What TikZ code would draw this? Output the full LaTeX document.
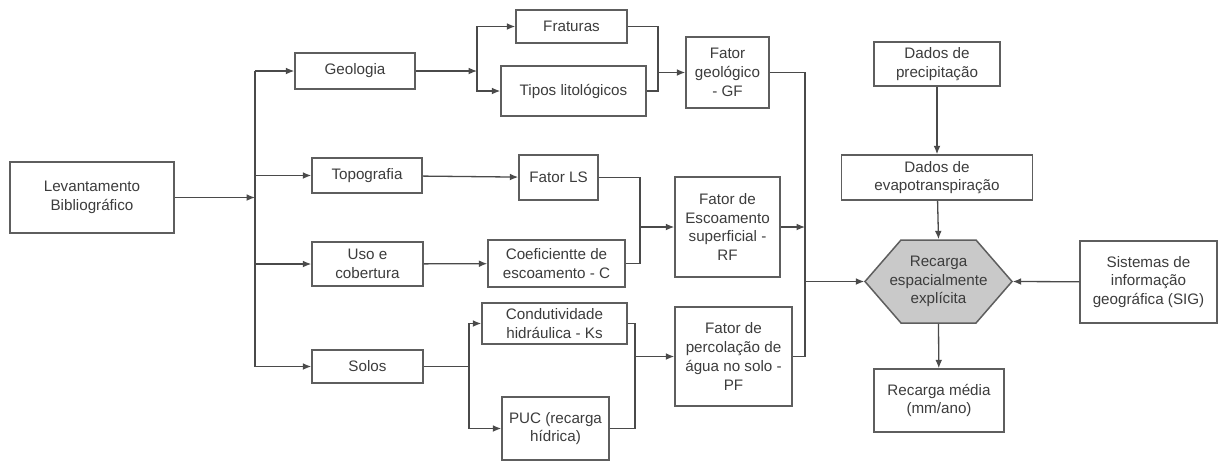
\documentclass[tikz,border=0pt]{standalone}
\usepackage{fontspec}
\setmainfont{Liberation Sans}
\usepackage{xcolor}
\definecolor{linhacinza}{HTML}{4A4A4A}
\definecolor{bordacinza}{HTML}{5E5E5E}
\definecolor{textocinza}{HTML}{3C3C3C}
\definecolor{hexcinza}{HTML}{C9C9C9}
\usepackage{tikz}
\usetikzlibrary{arrows.meta}
\usetikzlibrary{positioning}

\tikzset{
    caixa/.style={draw=bordacinza,line width=0.75pt,align=center,inner sep=1pt,
        text=textocinza,font=\fontsize{7.6}{9.4}\selectfont},
    liga/.style={draw=linhacinza,line width=0.65pt},
    seta/.style={liga,-{Latex[length=4.2pt,width=3.4pt]}}
}

\begin{document}
\begin{tikzpicture}[x=0.5pt,y=-0.5pt]
    \useasboundingbox (0,0) rectangle (1219,462);

    % coluna de entrada
    \node[caixa,minimum width=82pt,minimum height=35.5pt] (lev) at (92,197.5) {Levantamento\\Bibliográfico};
    \node[caixa,minimum width=60pt,minimum height=18pt] (geo) at (355,71) {Geologia};
    \node[caixa,minimum width=55pt,minimum height=17.5pt] (topo) at (367,175.5) {Topografia};
    \node[caixa,minimum width=55.5pt,minimum height=22pt] (uso) at (367.5,264) {Uso e\\cobertura};
    \node[caixa,minimum width=55.5pt,minimum height=16.5pt] (solos) at (367.5,366.5) {Solos};

    % fatores intermediarios
    \node[caixa,minimum width=55.5pt,minimum height=16.5pt] (frat) at (571.5,26.5) {Fraturas};
    \node[caixa,minimum width=72.5pt,minimum height=25pt] (tipos) at (573.5,91) {Tipos litológicos};
    \node[caixa,minimum width=41.5pt,minimum height=35.5pt] (gf) at (727.5,72.5) {Fator\\geológico\\- GF};
    \node[caixa,minimum width=39.5pt,minimum height=22.5pt] (ls) at (558.5,177.5) {Fator LS};
    \node[caixa,minimum width=68.5pt,minimum height=23.5pt] (coef) at (556.5,263.5) {Coeficientte de\\escoamento - C};
    \node[caixa,minimum width=52.5pt,minimum height=50pt] (rf) at (727.5,227) {Fator de\\Escoamento\\superficial -\\RF};
    \node[caixa,minimum width=72.5pt,minimum height=20.5pt] (ks) at (554.5,323.5) {Condutividade\\hidráulica - Ks};
    \node[caixa,minimum width=53.5pt,minimum height=31.5pt] (puc) at (555.5,428.5) {PUC (recarga\\hídrica)};
    \node[caixa,minimum width=58.5pt,minimum height=49.5pt] (pf) at (733.5,356.5) {Fator de\\percolação de\\água no solo -\\PF};

    % lado direito
    \node[caixa,minimum width=63pt,minimum height=22pt] (prec) at (937,64) {Dados de\\precipitação};
    \node[caixa,minimum width=95.5pt,minimum height=22.5pt] (evap) at (937,177.5) {Dados de\\evapotranspiração};
    \coordinate (hexc) at (938.5,281.5);
    \fill[hexcinza,draw=bordacinza,line width=0.75pt,shift={(hexc)}]
        (-73.5,0) -- (-37.5,-41.5) -- (37.5,-41.5) -- (73.5,0) -- (37.5,41.5) -- (-37.5,41.5) -- cycle;
    \node[caixa,draw=none,minimum width=73.5pt,minimum height=41.5pt] (rec) at (hexc) {Recarga\\espacialmente\\explícita};
    \node[caixa,minimum width=68.5pt,minimum height=41pt] (sig) at (1148.5,282) {Sistemas de\\informação\\geográfica (SIG)};
    \node[caixa,minimum width=65pt,minimum height=31.5pt] (med) at (939,400.5) {Recarga média\\(mm/ano)};

    % pontos de juncao
    \coordinate (sp) at (255,197.5);
    \coordinate (gj) at (477,71);
    \coordinate (gm) at (658,72.5);
    \coordinate (rm) at (640,227);
    \coordinate (sj) at (469,366.5);
    \coordinate (pm) at (635,356.5);
    \coordinate (bm) at (805,281.5);

    % levantamento -> temas
    \draw[seta] (lev) -- (sp);
    \draw[liga] (sp |- geo) -- (sp |- solos);
    \foreach \t in {geo,topo,uso,solos}
        \draw[seta] (sp |- \t) -- (\t);

    % geologia
    \draw[seta] (geo) -- (gj);
    \draw[seta] (gj) |- (frat);
    \draw[seta] (gj) |- (tipos);
    \draw[liga] (frat.east) -| (gm);
    \draw[liga] (tipos.east) -| (gm);
    \draw[seta] (gm) -- (gf);

    % escoamento
    \draw[seta] (topo) -- (ls);
    \draw[seta] (uso) -- (coef);
    \draw[liga] (ls.east) -| (rm);
    \draw[liga] (coef.east) -| (rm);
    \draw[seta] (rm) -- (rf);

    % solos
    \draw[liga] (solos) -- (sj);
    \draw[seta] (sj) |- (ks);
    \draw[seta] (sj) |- (puc);
    \draw[liga] (ks.east) -| (pm);
    \draw[liga] (puc.east) -| (pm);
    \draw[seta] (pm) -- (pf);

    % fatores -> recarga
    \draw[liga] (gf.east) -| (bm);
    \draw[liga] (pf.east) -| (bm);
    \draw[seta] (rf.east) -- (rf.east -| bm);
    \draw[seta] (bm) -- (rec.west);

    \draw[seta] (prec) -- (evap);
    \draw[seta] (evap) -- (rec.north);
    \draw[seta] (sig) -- (rec.east);
    \draw[seta] (rec.south) -- (med);
\end{tikzpicture}
\end{document}
